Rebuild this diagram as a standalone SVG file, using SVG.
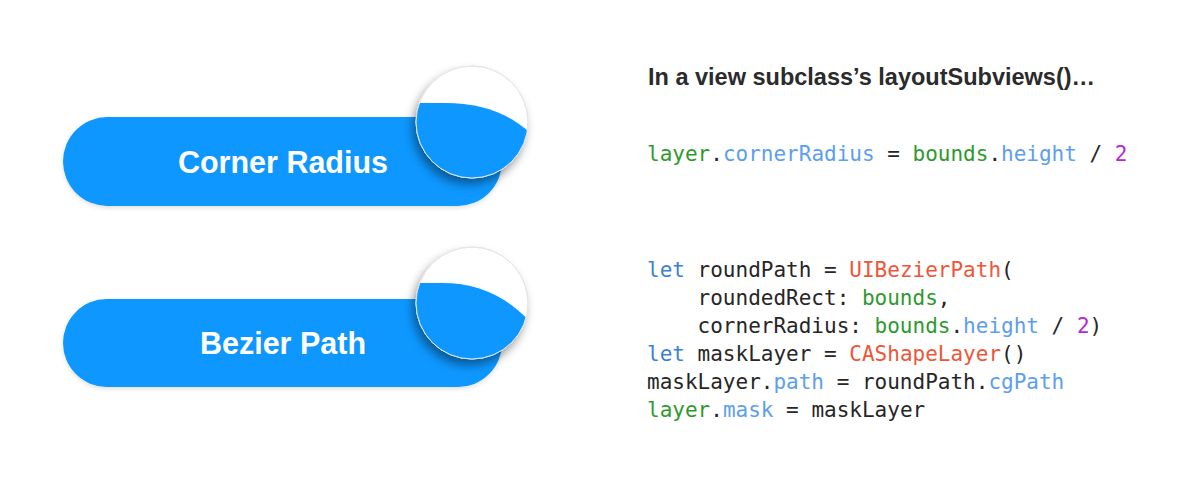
<svg xmlns="http://www.w3.org/2000/svg" width="1200" height="481" viewBox="0 0 1200 481">
<style>
.pill{fill:#0897ff}
.lbl{font-family:"Liberation Sans",Arial,sans-serif;font-weight:bold;font-size:30.5px;fill:#ffffff;text-anchor:middle}
.hdr{font-family:"Liberation Sans",Arial,sans-serif;font-weight:bold;font-size:23.5px;fill:#2b2b2b}
.code{font-family:"DejaVu Sans Mono","Liberation Mono",monospace;font-size:21px;fill:#262626;white-space:pre}
.g{fill:#2e9a2e}
.p{fill:#5c9ef0}
.k{fill:#3b7fd6}
.r{fill:#ef5638}
.n{fill:#b528d6}
.lens{fill:#ffffff;stroke:#e4e4e4;stroke-width:1}
</style>
<defs>
<filter id="lensShadow" x="-30%" y="-30%" width="160%" height="160%">
<feDropShadow dx="-3" dy="6" stdDeviation="5" flood-color="#000000" flood-opacity="0.4"/>
</filter>
<filter id="pillShadow" x="-10%" y="-20%" width="120%" height="150%">
<feDropShadow dx="0" dy="2" stdDeviation="2" flood-color="#000000" flood-opacity="0.12"/>
</filter>
<filter id="soft"><feGaussianBlur stdDeviation="0.7"/></filter>
<clipPath id="clip1"><circle cx="472" cy="122" r="56"/></clipPath>
<clipPath id="clip2"><circle cx="472" cy="303" r="56"/></clipPath>
</defs>
<rect width="1200" height="481" fill="#ffffff"/>

<g id="corner-radius">
<rect class="pill" x="63" y="117" width="439" height="89" rx="44.5" filter="url(#pillShadow)"/>
<text class="lbl" x="283" y="173">Corner Radius</text>
<g id="lens1">
<circle class="lens" cx="472" cy="122" r="56" filter="url(#lensShadow)"/>
<g clip-path="url(#clip1)">
<path class="pill" filter="url(#soft)" d="M405 103 L445 103 C482 103 512 113 540 142 L540 190 L405 190 Z"/>
</g>
<circle cx="472" cy="122" r="56" fill="none" stroke="#e6e6e6" stroke-width="1"/>
</g>
</g>

<g id="bezier-path">
<rect class="pill" x="63" y="299" width="439" height="88" rx="44" filter="url(#pillShadow)"/>
<text class="lbl" x="283" y="354">Bezier Path</text>
<g id="lens2">
<circle class="lens" cx="472" cy="303" r="56" filter="url(#lensShadow)"/>
<g clip-path="url(#clip2)">
<path class="pill" filter="url(#soft)" d="M405 283 L442 283 C478 283 508 296 536 328 L540 370 L405 370 Z"/>
</g>
<circle cx="472" cy="303" r="56" fill="none" stroke="#e6e6e6" stroke-width="1"/>
</g>
</g>

<g id="header">
<text class="hdr" x="648" y="85">In a view subclass’s layoutSubviews()…</text>
</g>

<g id="code-corner-radius">
<text class="code" x="647" y="161" xml:space="preserve"><tspan class="g">layer</tspan>.<tspan class="p">cornerRadius</tspan> = <tspan class="g">bounds</tspan>.<tspan class="p">height</tspan> / <tspan class="n">2</tspan></text>
</g>

<g id="code-bezier-path">
<text class="code" x="647" y="277" xml:space="preserve"><tspan class="k">let</tspan> roundPath = <tspan class="r">UIBezierPath</tspan>(</text>
<text class="code" x="647" y="305" xml:space="preserve">    roundedRect: <tspan class="g">bounds</tspan>,</text>
<text class="code" x="647" y="333" xml:space="preserve">    cornerRadius: <tspan class="g">bounds</tspan>.<tspan class="p">height</tspan> / <tspan class="n">2</tspan>)</text>
<text class="code" x="647" y="361" xml:space="preserve"><tspan class="k">let</tspan> maskLayer = <tspan class="r">CAShapeLayer</tspan>()</text>
<text class="code" x="647" y="389" xml:space="preserve">maskLayer.<tspan class="p">path</tspan> = roundPath.<tspan class="p">cgPath</tspan></text>
<text class="code" x="647" y="417" xml:space="preserve"><tspan class="g">layer</tspan>.<tspan class="p">mask</tspan> = maskLayer</text>
</g>

<g id="connectors"/>
</svg>
